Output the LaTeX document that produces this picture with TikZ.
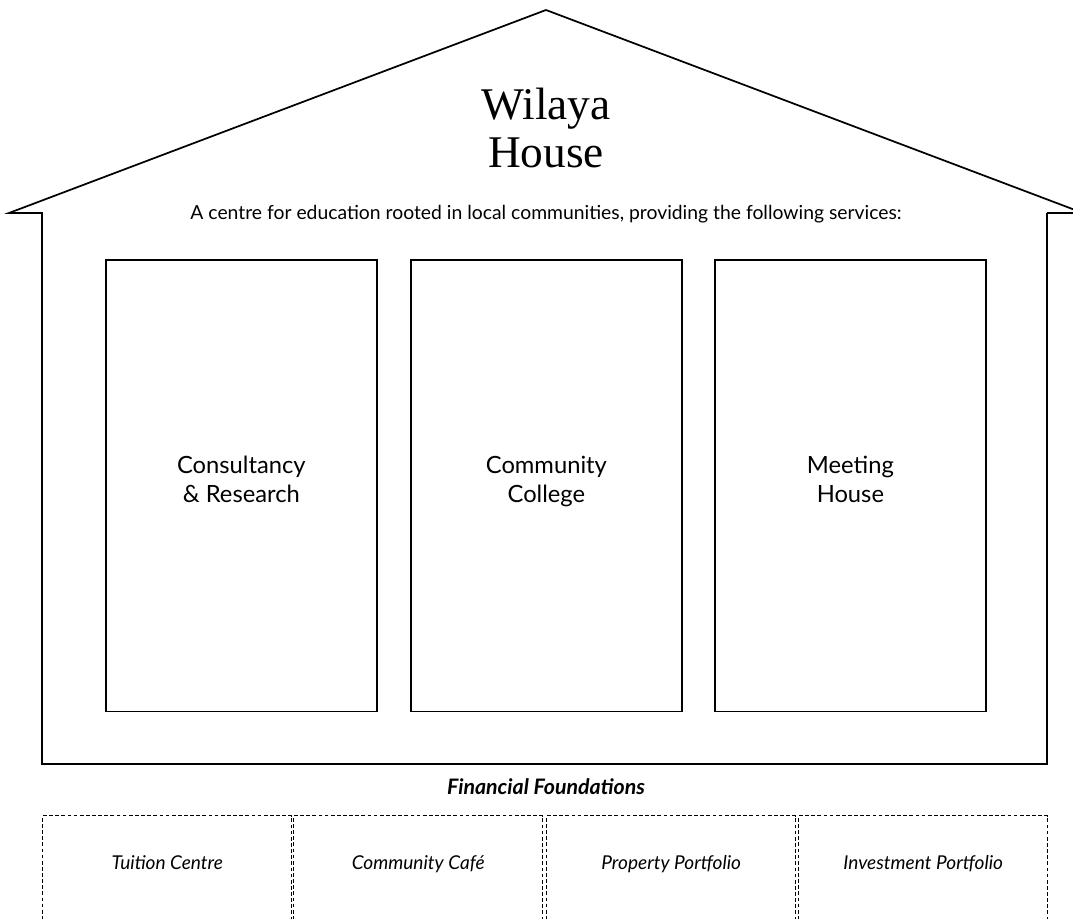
\documentclass[tikz,border=0pt]{standalone}
\usepackage{fontspec}
\setmainfont{Lato}
\newfontfamily\titlefont{Liberation Serif}
\begin{document}
\begin{tikzpicture}[x=0.75pt,y=-0.75pt,
  wall/.style={draw=black,line width=1.3pt,line join=miter},
  svcbox/.style={draw=black,line width=1.3pt,minimum width=271*0.75pt,minimum height=451*0.75pt,anchor=north west,inner sep=0pt},
  fundbox/.style={draw=black,line width=1.1pt,dash pattern=on 2.8pt off 1.8pt,minimum width=249*0.75pt,minimum height=150*0.75pt,anchor=north west,inner sep=0pt},
  svctext/.style={font=\fontsize{17.8}{21.75}\selectfont,align=center,inner sep=0pt},
  fundtext/.style={font=\fontsize{14.3}{17}\selectfont\itshape,anchor=base,inner sep=0pt},
]
\useasboundingbox (0,0) rectangle (1073,919);
\clip (0,0) rectangle (1073,919);
% house outline
\coordinate (eL) at (9,213);
\coordinate (apex) at (546,10);
\coordinate (eR) at (1083,213);
\coordinate (wLt) at (42,213);
\coordinate (wRt) at (1047,213);
\coordinate (wLb) at (42,764);
\coordinate (wRb) at (1047,764);
\draw[wall] (wRt) -- (eR) -- (apex) -- (eL) -- (wLt) -- (wLb) -- (wRb) -- (wRt);
% title
\node[font=\titlefont\fontsize{34}{35.5}\selectfont,align=center] (title) at (546,128) {Wilaya\\House};
\node[font=\fontsize{14.5}{17}\selectfont] (sub) at (546,214) {A centre for education rooted in local communities, providing the following services:};
% service boxes
\node[svcbox] (cr) at (105,259.5) {};
\node[svcbox] (cc) at (410,259.5) {};
\node[svcbox] (mh) at (714,259.5) {};
\node[svctext] (crt) at ([yshift=3.3*0.75pt]cr.center) {Consultancy\strut\\\& Research\strut};
\node[svctext] (cct) at ([yshift=3.3*0.75pt]cc.center) {Community\strut\\College\strut};
\node[svctext] (mht) at ([yshift=3.3*0.75pt]mh.center) {Meeting\strut\\House\strut};
% financial foundations
\node[font=\fontsize{16}{19}\selectfont\bfseries\itshape,anchor=base,inner sep=0pt] (ff) at (546,794) {Financial Foundations};
\node[fundbox] (f1) at (42,815) {};
\node[fundbox] (f2) at (293,815) {};
\node[fundbox] (f3) at (546,815) {};
\node[fundbox] (f4) at (798,815) {};
\node[fundtext] (f1t) at ([yshift=-54*0.75pt]f1.north) {Tuition Centre};
\node[fundtext] (f2t) at ([yshift=-54*0.75pt]f2.north) {Community Café};
\node[fundtext] (f3t) at ([yshift=-54*0.75pt]f3.north) {Property Portfolio};
\node[fundtext] (f4t) at ([yshift=-54*0.75pt]f4.north) {Investment Portfolio};
\end{tikzpicture}
\end{document}
